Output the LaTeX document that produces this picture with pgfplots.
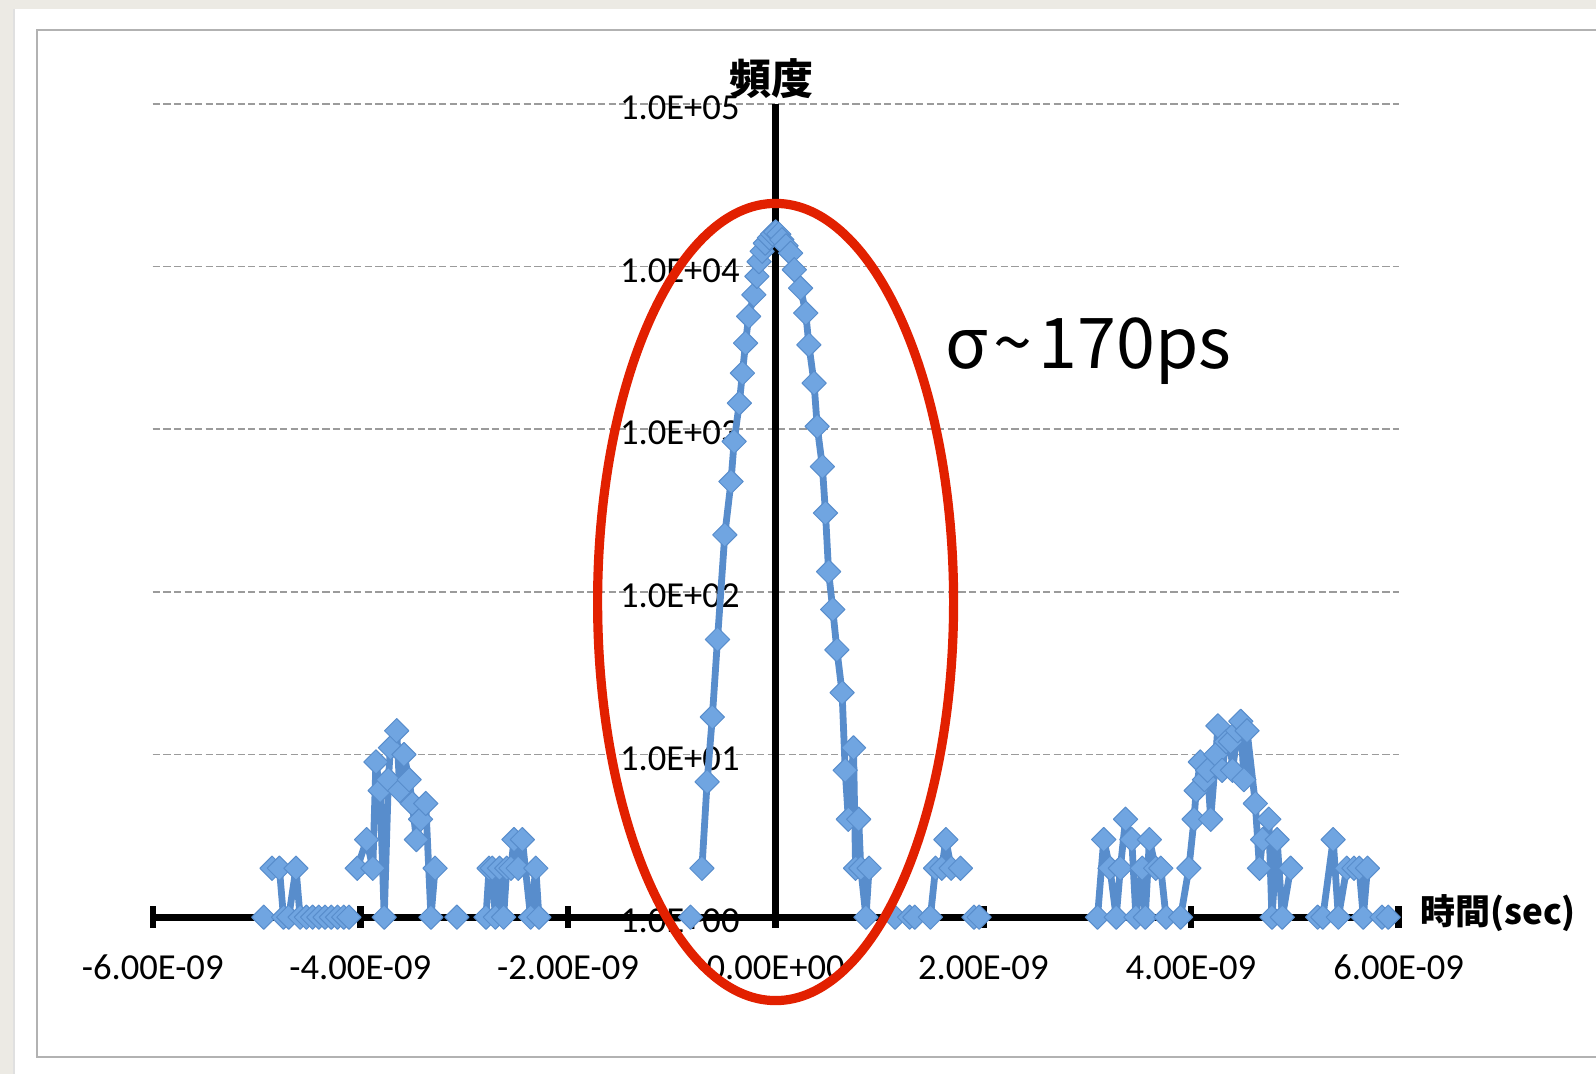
\documentclass[border=0pt]{standalone}
\usepackage{pgfplots}
\pgfplotsset{compat=1.18}
\usepackage{fontspec}
\setmainfont{Carlito}
\newfontfamily\cjk{Noto Sans CJK JP}
\definecolor{bgbeige}{RGB}{236,234,228}
\definecolor{lineblue}{RGB}{88,141,204}
\definecolor{markblue}{RGB}{112,165,225}
\definecolor{ellred}{RGB}{226,32,0}
\definecolor{gridgray}{RGB}{155,155,155}
\pgfdeclarelayer{bglayer}
\pgfdeclarelayer{axis background}
\pgfdeclarelayer{axis grid}
\pgfdeclarelayer{axis ticks}
\pgfdeclarelayer{axis lines}
\pgfdeclarelayer{axis tick labels}
\pgfdeclarelayer{pre main}
\pgfdeclarelayer{axis descriptions}
\pgfdeclarelayer{axis foreground}
\pgfsetlayers{bglayer,axis background,axis grid,axis ticks,axis lines,axis tick labels,pre main,main,axis descriptions,axis foreground}
\pgfplotsset{layers/mylayers/.define layer set={bglayer,axis background,axis grid,axis ticks,axis lines,axis tick labels,pre main,main,axis descriptions,axis foreground}{}}
\begin{document}
\begin{tikzpicture}
\begin{pgfonlayer}{bglayer}
\fill[bgbeige] (0,0) rectangle (798pt,-537pt);
\fill[black!12] (6.3pt,-4.5pt) rectangle (7.5pt,-537pt);
\fill[white] (7.5pt,-4.5pt) rectangle (798pt,-537pt);
\draw[black!30, line width=0.8pt] (798pt,-15pt) -- (18.5pt,-15pt) -- (18.5pt,-528.5pt) -- (798pt,-528.5pt);
\end{pgfonlayer}
\begin{axis}[
  set layers=mylayers,
  scale only axis, width=622.95pt, height=406.7pt,
  at={(76.35pt,-458.6pt)}, anchor=south west,
  xmin=-6, xmax=6, ymin=1, ymax=100000, ymode=log,
  axis lines=middle,
  axis line style={line width=3.6pt, black, -},
  hide obscured x ticks=false, hide obscured y ticks=false,
  xtick={-6,-4,-2,0,2,4,6},
  xticklabels={-6.00E-09,-4.00E-09,-2.00E-09,0.00E+00,2.00E-09,4.00E-09,6.00E-09},
  ytick={1,10,100,1000,10000,100000},
  yticklabels={1.0E+00,1.0E+01,1.0E+02,1.0E+03,1.0E+04,1.0E+05},
  minor ytick={}, yminorticks=false,
  xtick style={line width=3.2pt, black},
  ytick style={draw=none},
  major tick length=11pt, tick align=center,
  ticklabel style={font=\fontsize{18.3}{20}\selectfont, text=black},
  xticklabel style={anchor=north, yshift=-10pt},
  yticklabel style={anchor=east, xshift=-9pt, yshift=-2pt},
  ymajorgrids,
  grid style={gridgray, line width=0.8pt, dash pattern=on 3.6pt off 1.7pt},
  clip=false,
  unbounded coords=jump,
]
\addplot[color=lineblue, line width=3.4pt, line join=round, mark=square*, mark size=4.3pt,
  mark options={rotate=45, fill=markblue, draw=lineblue, line width=0.5pt, solid}]
coordinates {
(-4.93,1) (-4.90,nan)
(-4.85,2) (-4.78,2) (-4.74,1) (-4.69,1) (-4.62,2) (-4.58,1) (-4.52,1) (-4.46,1) (-4.40,1) (-4.34,1) (-4.28,1) (-4.22,1) (-4.16,1) (-4.11,1) (-4.07,nan)
(-4.03,2) (-3.94,3) (-3.88,2) (-3.85,9) (-3.81,6) (-3.77,1) (-3.73,7) (-3.71,11) (-3.65,14) (-3.62,6) (-3.58,10) (-3.53,7) (-3.50,5) (-3.46,3) (-3.42,4) (-3.37,5) (-3.32,1) (-3.28,2) (-3.20,nan)
(-3.07,1) (-3.00,nan)
(-2.79,1) (-2.76,2) (-2.73,2) (-2.70,1) (-2.66,2) (-2.62,1) (-2.59,2) (-2.55,2) (-2.52,3) (-2.48,2) (-2.44,3) (-2.36,1) (-2.31,2) (-2.28,1) (-2.20,nan)
(-0.82,1) (-0.76,nan)
(-0.71,2) (-0.66,6.8) (-0.61,17) (-0.56,51) (-0.49,224) (-0.43,476) (-0.40,840) (-0.35,1445) (-0.32,2210) (-0.29,3380) (-0.26,4930) (-0.21,6700) (-0.18,8690) (-0.16,10700) (-0.13,12400) (-0.10,13900) (-0.06,15000) (-0.03,15800) (0,16300) (0.03,15800) (0.06,14600) (0.10,13400) (0.145,12080) (0.18,9550) (0.24,7360) (0.29,5170) (0.32,3300) (0.37,1920) (0.40,1040) (0.45,589) (0.48,305) (0.51,133) (0.55,78) (0.59,44) (0.64,24) (0.67,8) (0.70,4) (0.75,11) (0.77,2) (0.80,4) (0.82,2) (0.87,1) (0.90,2) (0.95,nan)
(1.15,1) (1.20,nan)
(1.29,1) (1.34,1) (1.38,nan)
(1.49,1) (1.54,2) (1.60,2) (1.64,3) (1.69,2) (1.78,2) (1.85,nan)
(1.91,1) (1.96,1) (2.00,nan)
(3.10,1) (3.16,3) (3.22,2) (3.28,1) (3.32,2) (3.37,4) (3.43,3) (3.47,1) (3.53,2) (3.56,1) (3.60,3) (3.66,2) (3.71,2) (3.76,1) (3.83,nan)
(3.90,1) (3.98,2) (4.03,4) (4.05,6) (4.09,9) (4.13,7) (4.16,8) (4.19,4) (4.24,10) (4.26,15) (4.30,8) (4.34,12) (4.38,12) (4.40,8) (4.45,14) (4.48,16) (4.51,7) (4.54,14) (4.62,5) (4.66,2) (4.69,3) (4.75,4) (4.78,1) (4.83,3) (4.88,1) (4.96,2) (5.05,nan)
(5.22,1) (5.27,1) (5.37,3) (5.42,1) (5.50,2) (5.57,2) (5.62,2) (5.66,1) (5.70,2) (5.76,nan)
(5.84,1) (5.90,1)
};
\end{axis}
\node[font=\cjk\bfseries\fontsize{21}{24}\selectfont] at (385.8pt,-39.2pt) {頻度};
\node[anchor=west, inner sep=0pt, font=\cjk\bfseries\fontsize{17.5}{20}\selectfont] at (710pt,-456.5pt) {時間(sec)};
\node[anchor=base west, inner sep=0pt, font=\cjk\fontsize{35}{40}\selectfont] at (472.5pt,-184.2pt) {σ\kern3pt\textasciitilde\kern3pt 170ps};
\draw[ellred, line width=4.6pt] (387.8pt,-301pt) ellipse [x radius=89pt, y radius=199.3pt];
\pgfresetboundingbox
\path[use as bounding box] (0,0) rectangle (798pt,-537pt);
\end{tikzpicture}
\end{document}
